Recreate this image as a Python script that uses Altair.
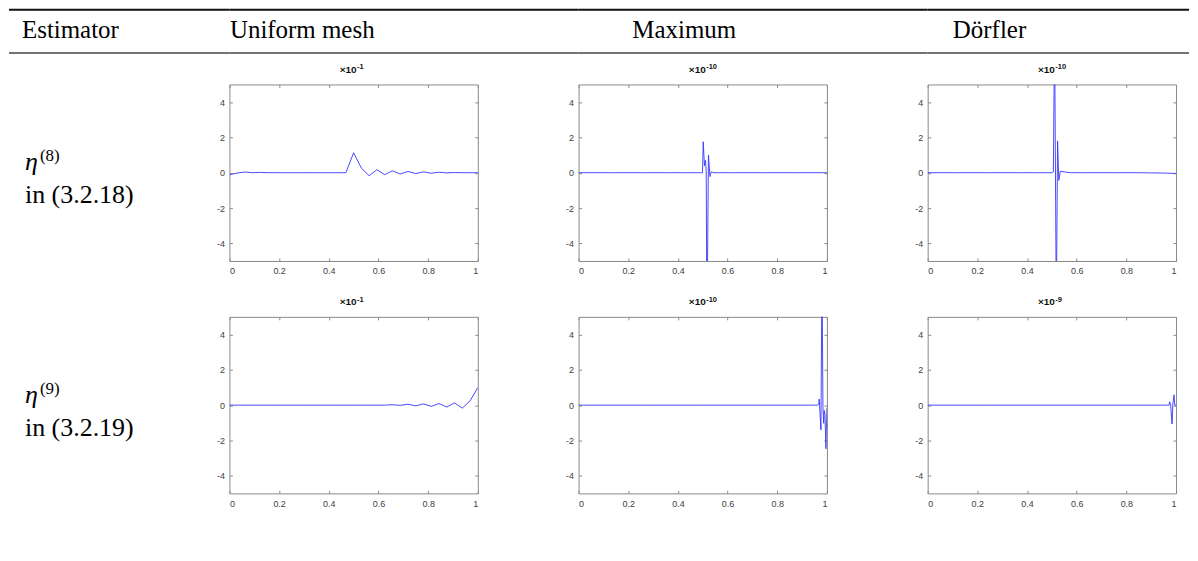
import altair as alt
import pandas as pd

# ---------------- data ----------------
headers = ["Estimator", "Uniform mesh", "Maximum", "Dörfler"]
row_symbol = ["η", "η"]
row_sup = ["(8)", "(9)"]
row_ref = ["in (3.2.18)", "in (3.2.19)"]
title_base = "×10"
title_exp = [["-1", "-10", "-10"],
             ["-1", "-10", "-9"]]
x_ticks = [0, 0.2, 0.4, 0.6, 0.8, 1]
y_ticks = [-4, -2, 0, 2, 4]

uniform_x = [0.0, 0.03125, 0.0625, 0.09375, 0.125, 0.15625, 0.1875, 0.21875,
             0.25, 0.28125, 0.3125, 0.34375, 0.375, 0.40625, 0.4375, 0.46875,
             0.5, 0.53125, 0.5625, 0.59375, 0.625, 0.65625, 0.6875, 0.71875,
             0.75, 0.78125, 0.8125, 0.84375, 0.875, 0.90625, 0.9375, 0.96875, 1.0]
uni8_y = [-0.11, -0.02, 0.04, 0.0, 0.02, 0.0, 0.0, 0.0, 0.0, 0.0, 0.0, 0.0,
          0.0, 0.0, 0.0, 0.0, 1.13, 0.26, -0.17, 0.17, -0.11, 0.11, -0.07, 0.07,
          -0.05, 0.05, -0.03, 0.03, -0.01, 0.01, 0.0, 0.0, 0.0]
uni9_y = [0.0, 0.0, 0.0, 0.0, 0.0, 0.0, 0.0, 0.0, 0.0, 0.0, 0.0, 0.0, 0.0,
          0.0, 0.0, 0.0, 0.0, 0.0, 0.0, 0.0, 0.0, 0.02, -0.01, 0.05, -0.04,
          0.07, -0.07, 0.09, -0.11, 0.13, -0.17, 0.24, 0.99]

max8_x = [0.0, 0.125, 0.25, 0.375, 0.4375, 0.469, 0.484, 0.492, 0.496, 0.499,
          0.502, 0.507, 0.511, 0.514, 0.517, 0.523, 0.529, 0.534, 0.545, 0.563,
          0.625, 0.75, 0.875, 1.0]
max8_y = [0.0, 0.0, 0.0, 0.0, 0.0, 0.0, 0.0, 0.0, 0.0, 0.0,
          1.75, 0.4, 0.7, 0.07, -9.0, 1.0, -0.22, 0.05, 0.0, 0.0,
          0.0, 0.0, 0.0, 0.0]

dor8_x = [0.0, 0.125, 0.25, 0.375, 0.4375, 0.469, 0.488, 0.497, 0.502, 0.506,
          0.511, 0.514, 0.518, 0.523, 0.528, 0.534, 0.549, 0.576, 0.625, 0.75,
          0.85, 0.9, 0.95, 1.0]
dor8_y = [0.0, 0.0, 0.0, 0.0, 0.0, 0.0, 0.0, 0.0, 0.0, 0.05,
          8.0, 1.3, -8.0, 1.8, -0.44, 0.08, 0.05, 0.0, 0.0, 0.0,
          0.0, -0.01, -0.02, -0.04]

max9_x = [0.0, 0.25, 0.5, 0.75, 0.875, 0.938, 0.953, 0.962, 0.967, 0.969,
          0.976, 0.98, 0.984, 0.987, 0.989, 0.992, 0.996, 1.0]
max9_y = [0.0, 0.0, 0.0, 0.0, 0.0, 0.0, 0.0, 0.0, 0.05, 0.34,
          -1.4, 8.0, -0.1, -1.03, -0.3, -0.5, -2.47, -0.17]

dor9_x = [0.0, 0.25, 0.5, 0.75, 0.875, 0.938, 0.963, 0.972, 0.974, 0.978,
          0.984, 0.987, 0.992, 0.995, 1.0]
dor9_y = [0.0, 0.0, 0.0, 0.0, 0.0, 0.0, 0.0, 0.0, 0.19, 0.05,
          -1.07, 0.05, 0.58, 0.0, 0.0]

series = [[(uniform_x, uni8_y), (max8_x, max8_y), (dor8_x, dor8_y)],
          [(uniform_x, uni9_y), (max9_x, max9_y), (dor9_x, dor9_y)]]

# ---------------- style ----------------
SERIF = "Liberation Serif, DejaVu Serif, serif"
SANS = "Liberation Sans, DejaVu Sans, sans-serif"
BLUE = "#3535ff"
GRAY = "#8a8a8a"
W, H = 249, 177
LABEL_W = 120
COL_GAP = 101
ROW_GAP = 56
HEAD_H = 19
TOTAL_W = 1183

no_view = alt.ViewBackground(strokeOpacity=0)
box_view = alt.ViewBackground(stroke=GRAY, strokeWidth=1)


def panel(xs, ys, exp):
    df = pd.DataFrame({"x": xs, "y": ys, "i": list(range(len(xs)))})
    base = alt.Chart(df)
    xsc = alt.Scale(domain=[0, 1], nice=False, zero=False)
    ysc = alt.Scale(domain=[-5, 5], nice=False, zero=False)
    lab = dict(labelFont=SANS, labelFontSize=9, labelColor="#404040",
               grid=False, title=None, domain=False, ticks=False)
    tk = dict(labels=False, grid=False, title=None, domain=False,
              ticks=True, tickSize=3, tickColor=GRAY, tickWidth=1)
    line = base.mark_line(clip=True, color=BLUE, strokeWidth=0.9).encode(
        x=alt.X("x:Q", scale=xsc,
                axis=alt.Axis(orient="bottom", values=x_ticks, labelPadding=6,
                              labelExpr="datum.value + ''", **lab)),
        y=alt.Y("y:Q", scale=ysc,
                axis=alt.Axis(orient="left", values=y_ticks, labelPadding=5,
                              labelExpr="datum.value + ''", **lab)),
        order="i:Q",
    )
    ticks_a = base.mark_line(strokeOpacity=0, clip=True).encode(
        x=alt.X("x:Q", scale=xsc,
                axis=alt.Axis(orient="top", offset=-H, values=x_ticks, **tk)),
        y=alt.Y("y:Q", scale=ysc,
                axis=alt.Axis(orient="right", offset=-W, values=y_ticks, **tk)),
    )
    ticks_b = base.mark_line(strokeOpacity=0, clip=True).encode(
        x=alt.X("x:Q", scale=xsc,
                axis=alt.Axis(orient="bottom", offset=-H, values=x_ticks, **tk)),
        y=alt.Y("y:Q", scale=ysc,
                axis=alt.Axis(orient="left", offset=-W, values=y_ticks, **tk)),
    )
    tdf = pd.DataFrame({"base": [title_base], "exp": [exp]})
    tbase = alt.Chart(tdf)
    t1 = tbase.mark_text(align="right", baseline="alphabetic", font=SANS,
                         fontSize=10, fontWeight="bold", color="#111").encode(
        x=alt.value(W / 2 + 3), y=alt.value(-11.5), text="base:N")
    t2 = tbase.mark_text(align="left", baseline="alphabetic", font=SANS,
                         fontSize=7.5, fontWeight="bold", color="#111").encode(
        x=alt.value(W / 2 + 3.5), y=alt.value(-15), text="exp:N")
    return alt.layer(line, ticks_a, ticks_b, t1, t2).resolve_axis(
        x="independent", y="independent"
    ).properties(width=W, height=H, view=box_view)


def label_cell(i):
    df = pd.DataFrame({"sym": [row_symbol[i]], "sup": [row_sup[i]],
                       "ref": [row_ref[i]]})
    base = alt.Chart(df)
    sym = base.mark_text(align="left", baseline="alphabetic", font=SERIF,
                         fontSize=26, fontStyle="italic", color="#000").encode(
        x=alt.value(16), y=alt.value(86), text="sym:N")
    sup = base.mark_text(align="left", baseline="alphabetic", font=SERIF,
                         fontSize=17, color="#000").encode(
        x=alt.value(31), y=alt.value(77), text="sup:N")
    ref = base.mark_text(align="left", baseline="alphabetic", font=SERIF,
                         fontSize=26, color="#000").encode(
        x=alt.value(16), y=alt.value(119), text="ref:N")
    return alt.layer(sym, sup, ref).properties(width=LABEL_W, height=H,
                                                view=no_view)


def header_cell(i, cell_w, text_x, align, rule_len):
    df = pd.DataFrame({"label": [headers[i]]})
    base = alt.Chart(df)
    txt = base.mark_text(align=align, baseline="alphabetic", font=SERIF,
                         fontSize=25, color="#000").encode(
        x=alt.value(text_x), y=alt.value(28), text="label:N")
    top = base.mark_rule(color="#111111", strokeWidth=2).encode(
        x=alt.value(0), x2=alt.value(rule_len), y=alt.value(0))
    mid = base.mark_rule(color="#444444", strokeWidth=1.3).encode(
        x=alt.value(0), x2=alt.value(rule_len), y=alt.value(43.5))
    return alt.layer(top, mid, txt).properties(width=cell_w, height=HEAD_H,
                                                view=no_view)


x3 = LABEL_W + 3 * COL_GAP + 2 * W
cells = [
    header_cell(0, LABEL_W, 13, "left", LABEL_W + COL_GAP),
    header_cell(1, W, 73, "center", W + COL_GAP),
    header_cell(2, W, 106, "center", W + COL_GAP),
    header_cell(3, W, 62, "center", TOTAL_W - x3),
]
for r in range(2):
    cells.append(label_cell(r))
    for c in range(3):
        xs, ys = series[r][c]
        cells.append(panel(xs, ys, title_exp[r][c]))

chart = alt.concat(
    *cells, columns=4, spacing={"row": ROW_GAP, "column": COL_GAP},
    bounds="flush",
).properties(padding=0).configure_view(stroke=None)

chart.save("out.html", embed_options={"renderer": "svg", "actions": False})
